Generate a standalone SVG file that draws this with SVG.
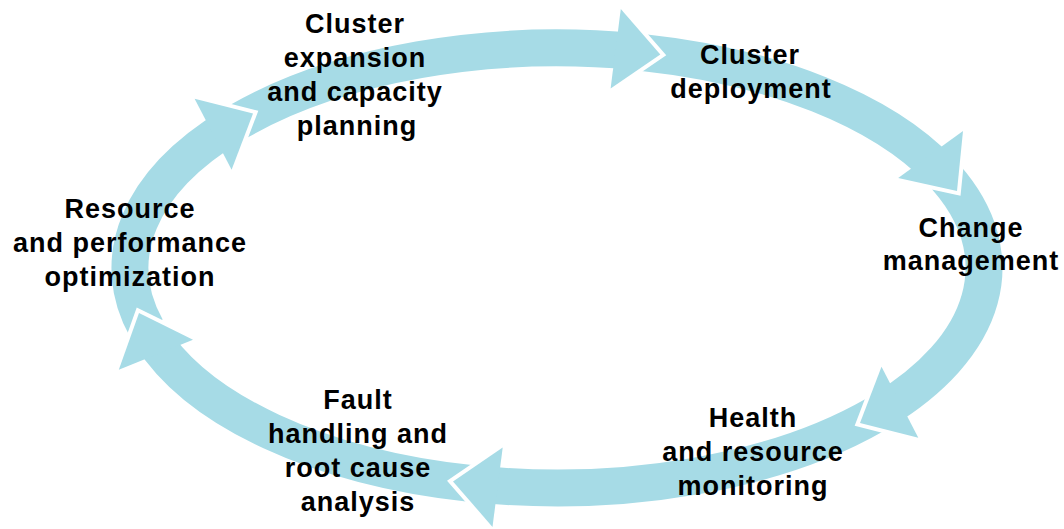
<svg xmlns="http://www.w3.org/2000/svg" width="1064" height="529" viewBox="0 0 1064 529">
<style>
.body{fill:none;stroke:#a6dbe6;stroke-width:37;stroke-linecap:butt}
.halo{fill:none;stroke:#ffffff;stroke-width:8;stroke-linejoin:miter}
.head{fill:#a6dbe6;stroke:none}
text{font-family:"Liberation Sans",Arial,sans-serif;font-weight:bold;font-size:27px;letter-spacing:1px;fill:#000;text-anchor:middle}
</style>
<rect width="1064" height="529" fill="#ffffff"/>
<g id="connectors">
<path class="body" d="M238.3,121.6 A427,220 0 0,1 635.3,51.7"/>
<path class="body" d="M643.3,52.6 A427,220 0 0,1 940.4,171.1"/>
<path class="body" d="M946.1,177.4 A427,220 0 0,1 881.3,411.1"/>
<path class="body" d="M874.7,415.0 A427,220 0 0,1 478.0,484.2"/>
<path class="body" d="M469.9,483.4 A427,220 0 0,1 150.8,335.8"/>
<path class="body" d="M146.5,328.6 A427,220 0 0,1 231.6,125.5"/>
<polyline class="halo" points="620.8,9.1 660.3,54.5 610.6,88.5"/>
<polygon class="head" points="620.8,9.1 660.3,54.5 610.6,88.5"/>
<polyline class="halo" points="963.0,131.1 957.0,191.0 898.2,178.1"/>
<polygon class="head" points="963.0,131.1 957.0,191.0 898.2,178.1"/>
<polyline class="halo" points="881.5,366.8 860.0,423.0 918.3,437.8"/>
<polygon class="head" points="881.5,366.8 860.0,423.0 918.3,437.8"/>
<polyline class="halo" points="502.7,447.5 453.0,481.4 492.5,526.9"/>
<polygon class="head" points="502.7,447.5 453.0,481.4 492.5,526.9"/>
<polyline class="halo" points="193.0,339.7 139.0,313.0 118.8,369.7"/>
<polygon class="head" points="193.0,339.7 139.0,313.0 118.8,369.7"/>
<polyline class="halo" points="194.6,98.8 253.0,113.5 231.6,169.8"/>
<polygon class="head" points="194.6,98.8 253.0,113.5 231.6,169.8"/>
</g>
<g id="expansion">
<text x="355" y="33">Cluster</text>
<text x="355" y="67">expansion</text>
<text x="355" y="101">and capacity</text>
<text x="357" y="135">planning</text>
</g>
<g id="deployment">
<text x="750" y="64">Cluster</text>
<text x="751" y="98">deployment</text>
</g>
<g id="change">
<text x="971" y="237">Change</text>
<text x="971" y="270">management</text>
</g>
<g id="monitoring">
<text x="753" y="427">Health</text>
<text x="753" y="461">and resource</text>
<text x="753" y="495">monitoring</text>
</g>
<g id="fault">
<text x="358" y="409">Fault</text>
<text x="358" y="443">handling and</text>
<text x="358" y="477">root cause</text>
<text x="358" y="511">analysis</text>
</g>
<g id="optimization">
<text x="130" y="218">Resource</text>
<text x="130" y="252">and performance</text>
<text x="130" y="286">optimization</text>
</g>
</svg>
